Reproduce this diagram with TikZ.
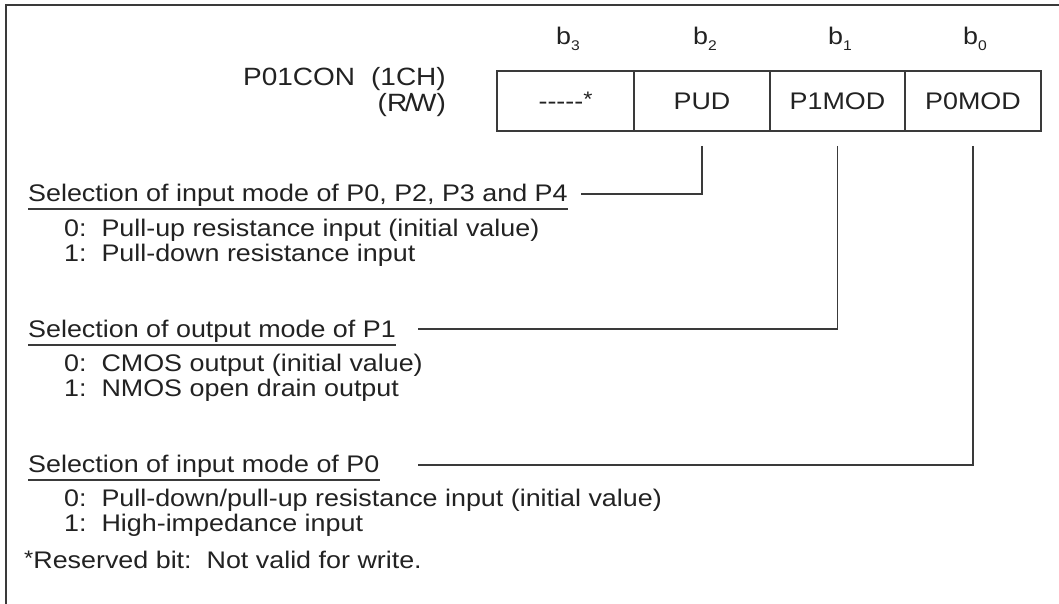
\documentclass[tikz,border=0pt]{standalone}
\usepackage{fontspec}
\setmainfont{Liberation Sans}[FakeStretch=1.12]
\definecolor{ln}{HTML}{3A3A3A}
\definecolor{tx}{HTML}{222222}
\newcommand{\myast}{\raisebox{3pt}{\fontsize{21}{21}\selectfont *}}
\newcommand{\bsub}[1]{b\raisebox{-6pt}{\fontsize{14}{14}\selectfont #1}}
\begin{document}
\begin{tikzpicture}[x=1pt,y=-1pt,
  wire/.style={draw=ln,line width=1.6pt},
  txt/.style={font=\fontsize{24}{28}\selectfont,text=tx,inner sep=0pt,anchor=base west},
  rtxt/.style={txt,anchor=base east},
  ctxt/.style={txt,anchor=base},
  cell/.style={draw=ln,line width=1.6pt,inner sep=0pt,minimum height=60pt,font=\fontsize{24}{28}\selectfont,text=tx}]
\useasboundingbox (0,0) rectangle (1059,604);
% frame
\draw[wire] (6,604) -- (6,5) -- (1059,5);
% bit labels
\node[ctxt] (l3) at (568,45) {\bsub{3}};
\node[ctxt] (l2) at (705,45) {\bsub{2}};
\node[ctxt] (l1) at (840,45) {\bsub{1}};
\node[ctxt] (l0) at (975,45) {\bsub{0}};
% register name
\node[rtxt] (reg) at (446,86) {\fontsize{25}{28}\selectfont P01CON\hspace{16pt}(1CH)};
\node[rtxt] (rw) at (446,112) {\fontsize{25}{28}\selectfont (R\kern-2.5pt/\kern-2.5pt W)};
% register cells
\node[cell,minimum width=137pt] (c3) at (565.5,101) {-{}-{}-{}-{}-\myast};
\node[cell,minimum width=136pt] (c2) at (702,101) {PUD};
\node[cell,minimum width=135pt] (c1) at (837.5,101) {P1MOD};
\node[cell,minimum width=136pt] (c0) at (973,101) {P0MOD};
% descriptions
\node[txt] (s2) at (28,201) {Selection of input mode of P0, P2, P3 and P4};
\node[txt] (s2a) at (64,236) {0:\ \ Pull-up resistance input (initial value)};
\node[txt] (s2b) at (64,261) {1:\ \ Pull-down resistance input};
\node[txt] (s1) at (28,337) {Selection of output mode of P1};
\node[txt] (s1a) at (64,371) {0:\ \ CMOS output (initial value)};
\node[txt] (s1b) at (64,396) {1:\ \ NMOS open drain output};
\node[txt] (s0) at (28,472) {Selection of input mode of P0};
\node[txt] (s0a) at (64,506) {0:\ \ Pull-down/pull-up resistance input (initial value)};
\node[txt] (s0b) at (64,531) {1:\ \ High-impedance input};
\node[txt] (note) at (24,568) {\myast Reserved bit:\ \ Not valid for write.};
% underlines
\draw[wire] ([yshift=-8pt]s2.base west) -- ([yshift=-8pt]s2.base east);
\draw[wire] ([yshift=-8pt]s1.base west) -- ([yshift=-8pt]s1.base east);
\draw[wire] ([yshift=-8pt]s0.base west) -- ([yshift=-8pt]s0.base east);
% connector ends
\coordinate (e2) at (581,194);
\coordinate (e1) at (418,329);
\coordinate (e0) at (418,465);
\draw[wire] ([yshift=-14pt]c2.south) |- (e2);
\draw[wire] ([yshift=-14pt]c1.south) |- (e1);
\draw[wire] ([yshift=-14pt]c0.south) |- (e0);
\end{tikzpicture}
\end{document}
